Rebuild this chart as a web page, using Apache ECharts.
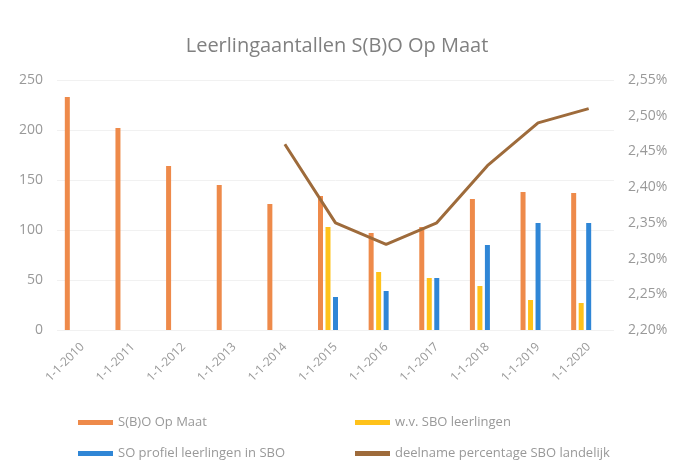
<!DOCTYPE html>
<html><head><meta charset="utf-8">
<script src="https://cdn.jsdelivr.net/npm/echarts@6/dist/echarts.min.js"></script>
<style>html,body{margin:0;padding:0;background:#fff}#c{width:674px;height:470px}</style>
</head><body><div id="c"></div>
<script>
const categories = ['1-1-2010','1-1-2011','1-1-2012','1-1-2013','1-1-2014','1-1-2015','1-1-2016','1-1-2017','1-1-2018','1-1-2019','1-1-2020'];
const sboOpMaat = [233, 202, 164, 145, 126, 134, 97, 103, 131, 138, 137];
const wvSbo = [null, null, null, null, null, 103, 58, 52, 44, 30, 27];
const soProfiel = [null, null, null, null, null, 33, 39, 52, 85, 107, 107];
const deelname = [null, null, null, null, 2.46, 2.35, 2.32, 2.35, 2.43, 2.49, 2.51];
const leftTicks = {min: 0, max: 250, interval: 50};
const rightTicks = {min: 2.20, max: 2.55, interval: 0.05};

const font = 'Open Sans';
const grey = '#999999';
const chart = echarts.init(document.getElementById('c'));
const barBase = {type: 'bar', barWidth: 5, barGap: '50%'};
chart.setOption({
  animation: false,
  textStyle: {fontFamily: font},
  title: {text: 'Leerlingaantallen S(B)O Op Maat', left: 'center', top: 31,
    textStyle: {fontFamily: font, fontSize: 20, fontWeight: 'normal', color: '#808080'}},
  grid: {left: 57, right: 60, top: 80, bottom: 140},
  legend: [
    {orient: 'vertical', left: 73, top: 411, itemWidth: 35, itemHeight: 5, itemGap: 18, icon: 'rect',
     data: ['S(B)O Op Maat', 'SO profiel leerlingen in SBO'],
     textStyle: {fontFamily: font, fontSize: 13, color: grey}},
    {orient: 'vertical', left: 350, top: 411, itemWidth: 35, itemHeight: 5, itemGap: 18, icon: 'rect',
     data: ['w.v. SBO leerlingen', 'deelname percentage SBO landelijk'],
     textStyle: {fontFamily: font, fontSize: 13, color: grey}}
  ],
  xAxis: {type: 'category', data: categories,
    axisLine: {show: false}, axisTick: {show: false},
    axisLabel: {rotate: 45, fontSize: 12, color: grey, margin: 15, interval: 0}},
  yAxis: [
    {type: 'value', min: leftTicks.min, max: leftTicks.max, interval: leftTicks.interval,
     axisLine: {show: false}, axisTick: {show: false},
     axisLabel: {fontSize: 14, color: grey, margin: 14},
     splitLine: {lineStyle: {color: '#f1f1f1'}}},
    {type: 'value', min: rightTicks.min, max: rightTicks.max, interval: rightTicks.interval,
     axisLine: {show: false}, axisTick: {show: false}, splitLine: {show: false},
     axisLabel: {fontSize: 14, color: grey, margin: 14,
       formatter: v => v.toFixed(2).replace('.', ',') + '%'}}
  ],
  series: [
    Object.assign({}, barBase, {name: 'S(B)O Op Maat', data: sboOpMaat, itemStyle: {color: '#ee8a4a'}}),
    Object.assign({}, barBase, {name: 'w.v. SBO leerlingen', data: wvSbo, itemStyle: {color: '#ffc21a'}}),
    Object.assign({}, barBase, {name: 'SO profiel leerlingen in SBO', data: soProfiel, itemStyle: {color: '#2f86d6'}}),
    Object.assign({}, barBase, {name: 'leeg1', data: categories.map(() => null), itemStyle: {color: 'transparent'}}),
    Object.assign({}, barBase, {name: 'leeg2', data: categories.map(() => null), itemStyle: {color: 'transparent'}}),
    {type: 'line', name: 'deelname percentage SBO landelijk', yAxisIndex: 1, data: deelname,
     symbol: 'none', lineStyle: {width: 3, color: '#9e6b3b'}, itemStyle: {color: '#9e6b3b'}}
  ]
});
</script></body></html>
